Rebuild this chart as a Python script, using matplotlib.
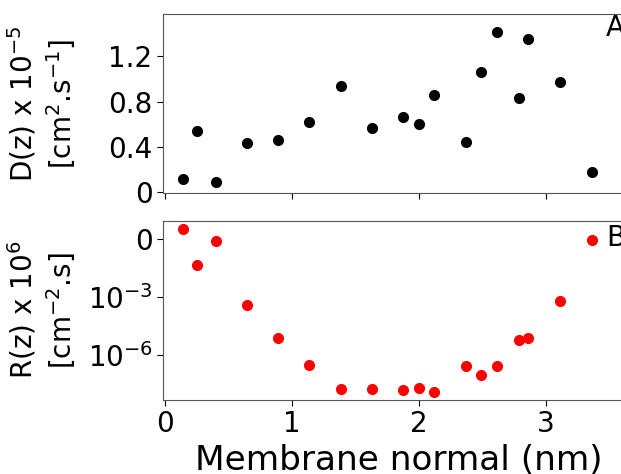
import numpy as np
import matplotlib
matplotlib.use('Agg')
import matplotlib.pyplot as plt

# Position along the membrane normal (nm)
z = [0.14, 0.25, 0.40, 0.645, 0.89, 1.136, 1.383, 1.627, 1.877, 2.0,
     2.12, 2.37, 2.49, 2.61, 2.785, 2.856, 3.11, 3.36]

# Diffusion profile D(z) x 1e-5 cm^2/s
D = [0.118, 0.54, 0.09, 0.43, 0.46, 0.617, 0.938, 0.566, 0.666, 0.599,
     0.858, 0.442, 1.065, 1.416, 0.832, 1.357, 0.971, 0.174]

# Resistance profile, log10 of R(z)
logR = [0.52, -1.33, -0.07, -3.41, -5.11, -6.5, -7.74, -7.71, -7.8, -7.69,
        -7.9, -6.56, -6.99, -6.56, -5.21, -5.11, -3.17, -0.05]
R = [10 ** v for v in logR]

d_ticks = [0, 0.4, 0.8, 1.2]
d_ticklabels = ['0', '0.4', '0.8', '1.2']
r_ticks = [1, 1e-3, 1e-6]
r_ticklabels = ['0', '$10^{-3}$', '$10^{-6}$']
x_ticks = [0, 1, 2, 3]

plt.rcParams['font.size'] = 20
plt.rcParams['axes.edgecolor'] = '#555555'

fig = plt.figure(figsize=(6.21, 4.74), dpi=100)
ax1 = fig.add_axes([0.2625, 0.5928, 0.76, 0.3776])
ax2 = fig.add_axes([0.2625, 0.1561, 0.76, 0.3783])

# Panel A: diffusion coefficient
ax1.plot(z, D, 'o', color='black', markersize=7)
ax1.set_xlim(-0.016, 3.7)
ax1.set_ylim(-0.01, 1.575)
ax1.set_yticks(d_ticks)
ax1.set_yticklabels(d_ticklabels)
ax1.set_xticks(x_ticks)
ax1.set_xticklabels([])
ax1.set_ylabel('D(z) x $10^{-5}$\n[cm$^2$.s$^{-1}$]')
ax1.text(3.47, 1.38, 'A', fontsize=20)

# Panel B: resistance
ax2.plot(z, R, 'o', color='red', markersize=7)
ax2.set_yscale('log')
ax2.set_xlim(-0.016, 3.7)
ax2.set_ylim(10 ** -8.3, 10 ** 0.96)
ax2.set_yticks(r_ticks)
ax2.set_yticklabels(r_ticklabels)
ax2.minorticks_off()
ax2.set_xticks(x_ticks)
ax2.set_ylabel('R(z) x $10^6$\n[cm$^{-2}$.s]')
ax2.set_xlabel('Membrane normal (nm)', fontsize=24.7)
ax2.text(3.47, 10 ** -0.35, 'B', fontsize=20)

for ax in (ax1, ax2):
    ax.tick_params(colors='black', length=4)
    ax.yaxis.set_label_coords(-0.18, 0.5)

fig.savefig('out.png', dpi=100)
